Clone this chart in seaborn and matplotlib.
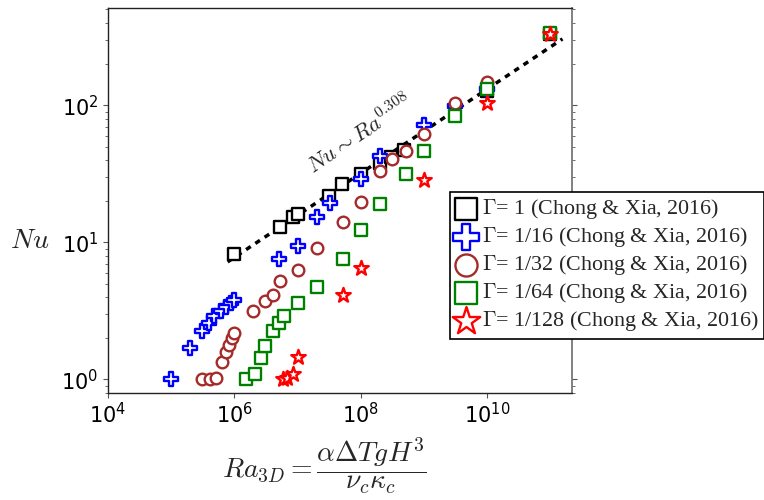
import numpy as np
import pandas as pd
import matplotlib
matplotlib.use("Agg")
import matplotlib.pyplot as plt
import seaborn as sns
from matplotlib.font_manager import FontProperties
from matplotlib.ticker import LogLocator, NullFormatter, NullLocator

# ---------------- data ----------------
ra_g1 = [1.0e6, 5.2e6, 8.3e6, 1.0e7, 3.1e7, 5.0e7, 1.0e8, 2.0e8, 3.0e8, 4.8e8, 1.0e10, 1.0e11]
nu_g1 = [8.2, 12.9, 15.4, 16.0, 21.9, 26.5, 31.5, 38.0, 42.0, 47.0, 127.0, 330.0]

ra_g16 = [1.0e5, 2.0e5, 3.06e5, 3.9e5, 4.8e5, 6.1e5, 7.3e5, 8.7e5, 1.0e6,
          5.1e6, 1.0e7, 2.0e7, 3.2e7, 1.0e8, 2.0e8, 1.0e9, 3.1e9, 1.0e10]
nu_g16 = [1.0, 1.70, 2.26, 2.6, 2.88, 3.18, 3.4, 3.63, 3.8,
          7.5, 9.4, 15.4, 19.3, 29.0, 42.7, 72.4, 98.0, 132.0]

ra_g32 = [3.05e5, 4.1e5, 5.2e5, 6.3e5, 7.3e5, 8.2e5, 9.3e5, 1.0e6, 2.0e6, 3.05e6,
          4.1e6, 5.2e6, 1.0e7, 2.0e7, 5.2e7, 1.0e8, 2.0e8, 3.1e8, 5.1e8, 1.0e9,
          3.1e9, 1.0e10]
nu_g32 = [1.0, 1.0, 1.03, 1.33, 1.58, 1.77, 2.0, 2.18, 3.16, 3.73,
          4.13, 5.25, 6.27, 9.1, 14.0, 19.8, 33.2, 40.4, 46.4, 61.3,
          104.0, 149.0]

ra_g64 = [1.5e6, 2.1e6, 2.6e6, 3.1e6, 4.1e6, 5.1e6, 6.1e6, 1.0e7, 2.0e7, 5.2e7,
          1.0e8, 2.0e8, 5.1e8, 1.0e9, 3.1e9, 1.0e10, 1.0e11]
nu_g64 = [1.0, 1.09, 1.44, 1.74, 2.24, 2.6, 2.88, 3.63, 4.7, 7.5,
          12.4, 18.9, 31.5, 46.4, 84.0, 132.0, 334.0]

ra_g128 = [5.9e6, 6.9e6, 8.5e6, 1.0e7, 5.2e7, 1.0e8, 1.0e9, 1.0e10, 1.0e11]
nu_g128 = [1.0, 1.02, 1.09, 1.46, 4.13, 6.55, 28.6, 104.0, 330.0]

fit_ra = [7.8e5, 1.55e11]
fit_nu = [7.2, 305.0]

labels = [r"$\Gamma$= 1 (Chong & Xia, 2016)",
          r"$\Gamma$= 1/16 (Chong & Xia, 2016)",
          r"$\Gamma$= 1/32 (Chong & Xia, 2016)",
          r"$\Gamma$= 1/64 (Chong & Xia, 2016)",
          r"$\Gamma$= 1/128 (Chong & Xia, 2016)"]
x_ticks = [1e4, 1e6, 1e8, 1e10]

# ---------------- styling ----------------
sns.set_style("ticks")
plt.rcParams["font.family"] = ["DejaVu Sans"]
plt.rcParams["mathtext.fontset"] = "dejavusans"

fig = plt.figure(figsize=(7.64, 5.0), dpi=100)
ax = fig.add_axes([108 / 764, 1 - 392.7 / 500, (571.7 - 108) / 764, (392.7 - 8.3) / 500])

series = [
    (ra_g1, nu_g1, "s", "black", 64),
    (ra_g16, nu_g16, "P", "blue", 90),
    (ra_g32, nu_g32, "o", "brown", 70),
    (ra_g64, nu_g64, "s", "green", 64),
    (ra_g128, nu_g128, "*", "red", 120),
]

for (xs, ys, mk, col, s), lab in zip(series, labels):
    df = pd.DataFrame({"Ra": xs, "Nu": ys})
    sns.scatterplot(data=df, x="Ra", y="Nu", marker=mk, s=s, facecolor="white",
                    edgecolor=col, linewidth=1.7, label=lab, ax=ax, zorder=3)

fit_df = pd.DataFrame({"Ra": fit_ra, "Nu": fit_nu})
sns.lineplot(data=fit_df, x="Ra", y="Nu", color="black", linewidth=2.5,
             linestyle=(0, (1.6, 1.6)), ax=ax, zorder=2, legend=False)

ax.set_xscale("log")
ax.set_yscale("log")
ax.set_xlim(1e4, 10 ** 11.336)
ax.set_ylim(0.80, 510)

ax.set_xticks(x_ticks)
ax.xaxis.set_minor_locator(NullLocator())
ax.yaxis.set_major_locator(LogLocator(base=10, numticks=10))
ax.yaxis.set_minor_locator(LogLocator(base=10, subs=np.arange(2, 10), numticks=10))
ax.yaxis.set_minor_formatter(NullFormatter())

ax.tick_params(axis="both", which="both", direction="out", colors="#555555",
               labelcolor="black", labelsize=15)
ax.tick_params(axis="y", which="both", right=True, labelright=False)
ax.tick_params(axis="x", which="both", top=False)

for side in ["left", "bottom", "top"]:
    ax.spines[side].set_color("#222222")
    ax.spines[side].set_linewidth(1.0)
ax.spines["right"].set_color("#777777")
ax.spines["right"].set_linewidth(1.3)

ax.set_xlabel("")
ax.set_ylabel("")

# annotation along fit
ax.text(1.8e7, 31, r"$Nu \sim Ra^{0.308}$", rotation=34, rotation_mode="anchor",
        ha="left", va="baseline", fontsize=16, math_fontfamily="cm")

# axis labels
fig.text(30 / 764, 1 - 240 / 500, r"$Nu$", fontsize=20, ha="center", va="center",
         math_fontfamily="cm")
fig.text(324 / 764, 1 - 466 / 500,
         r"$Ra_{3D} = \dfrac{\alpha \Delta T g H^3}{\nu_c \kappa_c}$",
         fontsize=20, ha="center", va="center", math_fontfamily="cm")

# legend
prop = FontProperties(family="Liberation Serif", size=15.8, math_fontfamily="cm")
leg = ax.legend(loc="upper left", bbox_to_anchor=(450 / 764, 1 - 192 / 500),
                bbox_transform=fig.transFigure, prop=prop, markerscale=1.9,
                handlelength=1.0, handletextpad=0.2, borderpad=0.25,
                labelspacing=0.18, borderaxespad=0.0, frameon=True, fancybox=False,
                framealpha=1.0)
leg.get_frame().set_edgecolor("black")
leg.get_frame().set_linewidth(1.2)

fig.savefig("out.png", dpi=100)
